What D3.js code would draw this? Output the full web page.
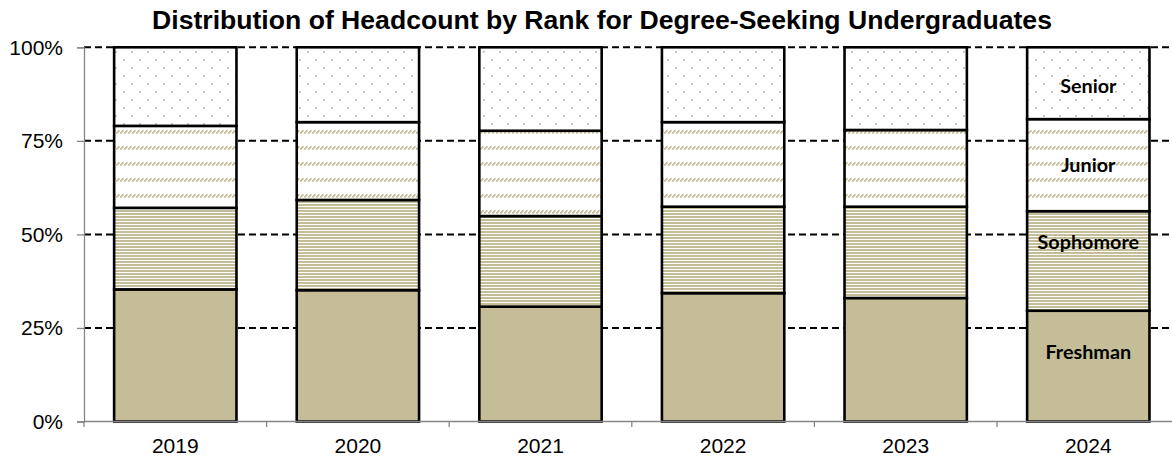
<!DOCTYPE html>
<html>
<head>
<meta charset="utf-8">
<title>Headcount by Rank</title>
<script src="https://cdn.jsdelivr.net/npm/d3@7/dist/d3.min.js"></script>
<style>
  body { margin: 0; background: #fff; }
  svg { display: block; }
  .tick text { font-family: "Liberation Sans", Arial, sans-serif; font-size: 21px; fill: #000; }
</style>
</head>
<body>
<svg id="chart" width="1172" height="458"></svg>
<script>
// data (share of headcount, each year sums to 1)
const years = ["2019", "2020", "2021", "2022", "2023", "2024"];
const ranks = ["Freshman", "Sophomore", "Junior", "Senior"];
const freshman  = [0.353, 0.351, 0.307, 0.343, 0.330, 0.296];
const sophomore = [0.218, 0.241, 0.242, 0.231, 0.244, 0.266];
const junior    = [0.219, 0.208, 0.228, 0.226, 0.205, 0.246];
const senior    = [0.210, 0.200, 0.223, 0.200, 0.221, 0.192];
const yTicks = [0, 0.25, 0.5, 0.75, 1];
const labelYear = "2024";

const tan = "#c4bd97";
const svg = d3.select("#chart");
const plotLeft = 84, plotBottom = 421.5, plotTop = 47.3;
const step = 182.6;

const x = d3.scaleBand()
  .domain(years)
  .range([plotLeft, plotLeft + step * years.length])
  .paddingInner(0.33)
  .paddingOuter(0.165);
const y = d3.scaleLinear().domain([0, 1]).range([plotBottom, plotTop]);

const rows = years.map((yr, i) => ({
  year: yr, Freshman: freshman[i], Sophomore: sophomore[i], Junior: junior[i], Senior: senior[i]
}));
const series = d3.stack().keys(ranks)(rows);

// fill patterns
const defs = svg.append("defs");
let p = defs.append("pattern").attr("id", "pat-soph").attr("patternUnits", "userSpaceOnUse")
  .attr("width", 8).attr("height", 3);
p.append("rect").attr("width", 8).attr("height", 3).attr("fill", "#fff");
p.append("rect").attr("width", 8).attr("height", 2).attr("fill", tan);

p = defs.append("pattern").attr("id", "pat-jun").attr("patternUnits", "userSpaceOnUse")
  .attr("width", 4).attr("height", 16);
p.append("rect").attr("width", 4).attr("height", 16).attr("fill", "#fff");
[[0, 4], [1, 3], [2, 2]].forEach(([px, py]) => {
  p.append("rect").attr("x", px).attr("y", py).attr("width", 1.7).attr("height", 1.7).attr("fill", tan);
});

p = defs.append("pattern").attr("id", "pat-sen").attr("patternUnits", "userSpaceOnUse")
  .attr("width", 16).attr("height", 16);
p.append("rect").attr("width", 16).attr("height", 16).attr("fill", "#fff");
p.append("rect").attr("x", 3).attr("y", 3).attr("width", 1.8).attr("height", 1.8).attr("fill", tan);
p.append("rect").attr("x", 11).attr("y", 11).attr("width", 1.8).attr("height", 1.8).attr("fill", tan);

const fills = { Freshman: tan, Sophomore: "url(#pat-soph)", Junior: "url(#pat-jun)", Senior: "url(#pat-sen)" };

// title
svg.append("text")
  .attr("x", 602).attr("y", 28.5)
  .attr("text-anchor", "middle")
  .style("font-family", "'Liberation Sans', Arial, sans-serif")
  .style("font-weight", "bold")
  .style("font-size", "26.6px")
  .text("Distribution of Headcount by Rank for Degree-Seeking Undergraduates");

// dashed gridlines behind bars
svg.append("g")
  .selectAll("line")
  .data(yTicks.filter(d => d > 0))
  .join("line")
  .attr("x1", plotLeft).attr("x2", 1172)
  .attr("y1", d => y(d)).attr("y2", d => y(d))
  .attr("stroke", "#000")
  .attr("stroke-width", 2)
  .attr("stroke-dasharray", "7,4");

// bars
svg.append("g")
  .selectAll("g")
  .data(series)
  .join("g")
  .attr("fill", d => fills[d.key])
  .selectAll("rect")
  .data(d => d)
  .join("rect")
  .attr("x", d => x(d.data.year))
  .attr("width", x.bandwidth())
  .attr("y", d => y(d[1]))
  .attr("height", d => y(d[0]) - y(d[1]))
  .attr("stroke", "#000")
  .attr("stroke-width", 2.6);

// axes
const yAxis = svg.append("g")
  .attr("transform", `translate(${plotLeft},0)`)
  .call(d3.axisLeft(y).tickValues(yTicks).tickFormat(d3.format(".0%")).tickSizeOuter(0).tickSize(7).tickPadding(14));
const xAxis = svg.append("g")
  .attr("transform", `translate(0,${plotBottom})`)
  .call(d3.axisBottom(x).tickSize(0).tickPadding(17));
xAxis.select(".domain").attr("d", `M${plotLeft},0H1172`);
xAxis.selectAll("line.bound")
  .data(d3.range(0, years.length + 1))
  .join("line")
  .attr("class", "bound")
  .attr("x1", i => plotLeft + i * step).attr("x2", i => plotLeft + i * step)
  .attr("y1", 0).attr("y2", 5.5);
[yAxis, xAxis].forEach(a => {
  a.selectAll(".domain").attr("stroke", "#868686").attr("stroke-width", 1.3);
  a.selectAll("line").attr("stroke", "#868686").attr("stroke-width", 1.3);
});
xAxis.selectAll(".tick text").attr("dy", "0.71em");

// rank labels inside the last bar
const nudge = { Freshman: -14, Sophomore: -19, Junior: 0, Senior: 3 };
const last = years.indexOf(labelYear);
svg.append("g")
  .selectAll("text")
  .data(series)
  .join("text")
  .attr("x", x(labelYear) + x.bandwidth() / 2)
  .attr("y", d => (y(d[last][0]) + y(d[last][1])) / 2 + nudge[d.key])
  .attr("dy", "0.35em")
  .attr("text-anchor", "middle")
  .style("font-family", "Lato, 'Open Sans', sans-serif")
  .style("font-weight", "bold")
  .style("font-size", "19.8px")
  .attr("fill", "#000")
  .text(d => d.key);
</script>
</body>
</html>
